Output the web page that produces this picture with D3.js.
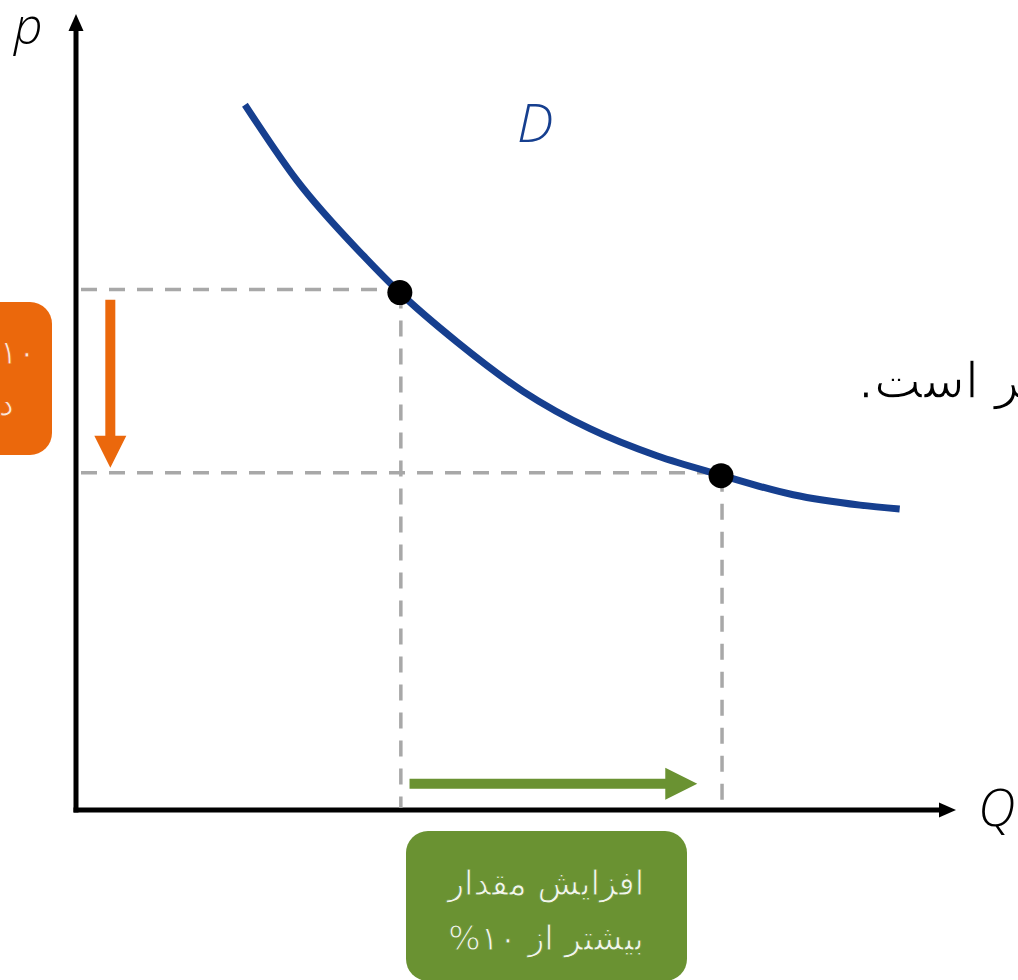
<!DOCTYPE html>
<html>
<head>
<meta charset="utf-8">
<script src="https://cdn.jsdelivr.net/npm/d3@7"></script>
<style>
  html, body { margin: 0; padding: 0; background: #fff; }
  svg { display: block; }
</style>
</head>
<body>
<div id="chart"></div>
<script>
// demand curve (Q, P in 0..100 units)
const curveQ = [19.2, 25.1, 32.6, 36.8, 43.3, 50.8, 58.4, 66.0, 73.2, 81.5, 89.1, 93.6];
const curveP = [88.6, 79.1, 69.7, 65.0, 58.8, 52.6, 47.9, 44.5, 42.1, 39.6, 38.3, 37.8];

// the two marked points on D
const pointQ = [36.8, 73.3];
const pointP = [65.0, 42.0];

// arrows: price drop and quantity rise
const priceArrow = { q: 3.9, from: 64.1, to: 43.0 };
const qtyArrow = { p: 3.3, from: 37.9, to: 70.6 };

const axisLabels = ["p", "Q"];
const curveLabel = "D";
const greenLines = ["افزایش مقدار", "بیشتر از ۱۰%"];
const orangeLines = ["۱۰\u200F% کاهش", "در قیمت"];
const sideText = "تقاضا کشش‌پذیر است.";

const W = 1018, H = 980;
const blue = "#163f8f", orange = "#eb680c", green = "#6a9232", grey = "#a8a8a8";
const faFont = "'DejaVu Sans', sans-serif";

const svg = d3.select("#chart").append("svg").attr("width", W).attr("height", H);

const x = d3.scaleLinear().domain([0, 100]).range([76, 956]);
const y = d3.scaleLinear().domain([0, 100]).range([810, 14]);

// axes with arrowheads
function axisArrow(x1, y1, x2, y2) {
    const ang = Math.atan2(y2 - y1, x2 - x1);
    const len = 17, half = 7.5;
    const bx = x2 - len * Math.cos(ang), by = y2 - len * Math.sin(ang);
    svg.append("line")
        .attr("x1", x1).attr("y1", y1).attr("x2", bx).attr("y2", by)
        .attr("stroke", "#000").attr("stroke-width", 5);
    svg.append("path")
        .attr("d", d3.line()([
            [x2, y2],
            [bx + half * Math.sin(ang), by - half * Math.cos(ang)],
            [bx - half * Math.sin(ang), by + half * Math.cos(ang)]
        ]) + "Z")
        .attr("fill", "#000");
}
axisArrow(x(0), y(0) + 2.5, x(0), y(100));
axisArrow(x(0) - 2.5, y(0), x(100), y(0));

// dashed guide lines
const guides = svg.append("g")
    .attr("stroke", grey).attr("stroke-width", 3.5)
    .attr("stroke-dasharray", "16,12").attr("fill", "none");
pointQ.forEach((q, i) => {
    guides.append("line")
        .attr("x1", x(0) + 5).attr("y1", y(pointP[i]) - 3)
        .attr("x2", x(q)).attr("y2", y(pointP[i]) - 3);
    guides.append("line")
        .attr("x1", x(q) + 1).attr("y1", y(pointP[i]))
        .attr("x2", x(q) + 1).attr("y2", y(0) - 2);
});

// demand curve
const pts = curveQ.map((q, i) => [x(q), y(curveP[i])]);
svg.append("path")
    .attr("d", d3.line().curve(d3.curveMonotoneX)(pts))
    .attr("fill", "none").attr("stroke", blue).attr("stroke-width", 7);

svg.selectAll(".dot").data(pointQ).enter()
    .append("circle")
    .attr("class", "dot")
    .attr("cx", d => x(d))
    .attr("cy", (d, i) => y(pointP[i]))
    .attr("r", 12.5)
    .attr("fill", "#000");

// block arrows
function blockArrow(x1, y1, x2, y2, color) {
    const ang = Math.atan2(y2 - y1, x2 - x1);
    const len = 32, head = 16, shaft = 5;
    const c = Math.cos(ang), s = Math.sin(ang);
    const bx = x2 - len * c, by = y2 - len * s;
    const poly = [
        [x1 + shaft * s, y1 - shaft * c],
        [bx + shaft * s, by - shaft * c],
        [bx + head * s, by - head * c],
        [x2, y2],
        [bx - head * s, by + head * c],
        [bx - shaft * s, by + shaft * c],
        [x1 - shaft * s, y1 + shaft * c]
    ];
    svg.append("path").attr("d", d3.line()(poly) + "Z").attr("fill", color);
}
blockArrow(x(priceArrow.q), y(priceArrow.from), x(priceArrow.q), y(priceArrow.to), orange);
blockArrow(x(qtyArrow.from), y(qtyArrow.p), x(qtyArrow.to), y(qtyArrow.p), green);

// labels on axes / curve
const italic = "'Open Sans', 'DejaVu Sans', sans-serif";
svg.append("text").text(axisLabels[0])
    .attr("x", 14).attr("y", 44)
    .attr("font-family", italic).attr("font-style", "italic").attr("font-weight", 300)
    .attr("font-size", 50).attr("fill", "#000");
svg.append("text").text(axisLabels[1])
    .attr("x", 978).attr("y", 826)
    .attr("font-family", italic).attr("font-style", "italic").attr("font-weight", 300)
    .attr("font-size", 52).attr("fill", "#000");
svg.append("text").text(curveLabel)
    .attr("x", 517).attr("y", 142)
    .attr("font-family", italic).attr("font-style", "italic").attr("font-weight", 300)
    .attr("font-size", 54).attr("fill", blue);

// persian text: a thin stroke in the background colour thins the glyphs
function faText(bg, sw) {
    return svg.append("text")
        .attr("direction", "rtl")
        .attr("font-family", faFont)
        .attr("stroke", bg).attr("stroke-width", sw)
        .style("paint-order", "fill");
}

// orange note (clipped at the left edge)
svg.append("rect")
    .attr("x", -150).attr("y", 302).attr("width", 202).attr("height", 153)
    .attr("rx", 22).attr("fill", orange);
const oText = faText(orange, 0.9)
    .attr("text-anchor", "start")
    .attr("font-size", 34).attr("fill", "#fbe7d8");
orangeLines.forEach((t, i) => {
    oText.append("tspan").attr("x", i === 0 ? 36 : 14).attr("y", 364 + i * 52).text(t);
});

// green note
svg.append("rect")
    .attr("x", 406).attr("y", 831).attr("width", 281).attr("height", 150)
    .attr("rx", 22).attr("fill", green);
const gText = faText(green, 0.9)
    .attr("text-anchor", "middle")
    .attr("font-size", 34).attr("fill", "#f2f6ec");
greenLines.forEach((t, i) => {
    gText.append("tspan").attr("x", 546).attr("y", 895 + i * 55).text(t);
});

// side sentence, cut at the right edge
faText("#fff", 1.4).text(sideText)
    .attr("text-anchor", "end")
    .attr("x", 858).attr("y", 398)
    .attr("font-size", 50).attr("fill", "#000");
</script>
</body>
</html>
